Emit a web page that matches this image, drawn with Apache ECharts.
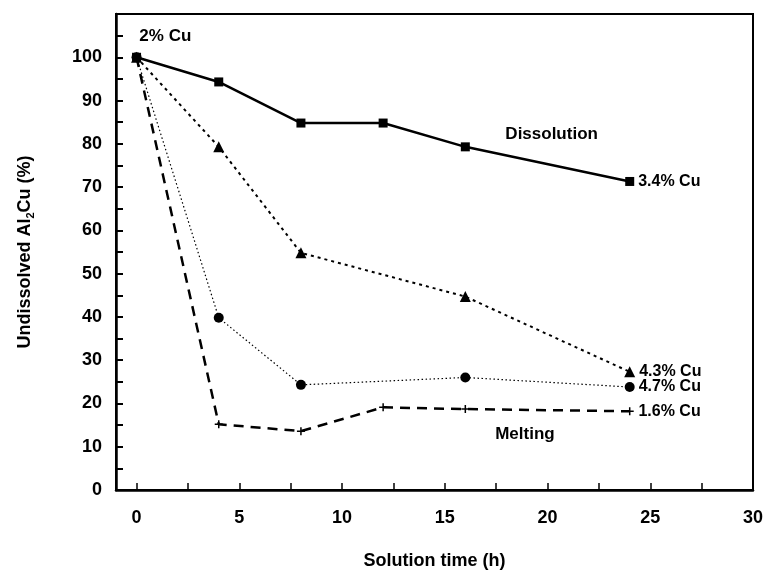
<!DOCTYPE html>
<html>
<head>
<meta charset="utf-8">
<script src="https://cdn.jsdelivr.net/npm/echarts@6/dist/echarts.min.js"></script>
<style>
  html, body { margin: 0; padding: 0; background: #fff; }
  #chart { width: 773px; height: 576px; }
</style>
</head>
<body>
<div id="chart"></div>
<script>
// Solution time in hours
const times = [0, 4, 8, 12, 16, 24];
const timesNo12 = [0, 4, 8, 16, 24];

// Undissolved Al2Cu (%) per alloy
const cu34 = [100, 94.3, 84.8, 84.8, 79.3, 71.3];
const cu43 = [100, 79.3, 54.8, 44.7, 27.3];
const cu47 = [100, 39.8, 24.3, 26.0, 23.8];
const cu16 = [100, 15.2, 13.6, 19.1, 18.7, 18.2];

// Axis ticks and labels
const xLabelValues = [0, 5, 10, 15, 20, 25, 30];
const xTickValues = [0, 2.5, 5, 7.5, 10, 12.5, 15, 17.5, 20, 22.5, 25, 27.5, 30];
const yLabelValues = [0, 10, 20, 30, 40, 50, 60, 70, 80, 90, 100];
const yTickValues = [0, 5, 10, 15, 20, 25, 30, 35, 40, 45, 50, 55, 60, 65, 70, 75, 80, 85, 90, 95, 100, 105];

// Text notes placed in data coordinates
const notes = [
  { text: 'Dissolution', at: [20.2, 82.3] },
  { text: 'Melting', at: [18.9, 12.9] },
  { text: '2% Cu', at: [1.4, 104.8] }
];

const FONT = '"Liberation Sans", Arial, Helvetica, sans-serif';
const pairs = (xs, ys) => xs.map((x, i) => [x, ys[i]]);

function withEndLabel(points, name) {
  return points.map((p, i) => i === points.length - 1
    ? { value: p, label: { show: true, position: 'right', distance: 4, formatter: name,
        color: '#000', fontFamily: FONT, fontWeight: 'bold', fontSize: 16 } }
    : p);
}

const plusPath = 'path://M0,5L10,5M5,0L5,10';

const chart = echarts.init(document.getElementById('chart'), null, { renderer: 'canvas' });

chart.setOption({
  animation: false,
  backgroundColor: '#fff',
  grid: {
    left: 116, right: 20, top: 14, bottom: 86,
    show: true, borderColor: '#000', borderWidth: 2, backgroundColor: 'transparent'
  },
  xAxis: {
    type: 'value', min: -1, max: 30,
    name: 'Solution time (h)', nameLocation: 'middle', nameGap: 62,
    nameTextStyle: { color: '#000', fontFamily: FONT, fontWeight: 'bold', fontSize: 18 },
    axisLine: { show: true, onZero: false, lineStyle: { color: '#000', width: 2.5 } },
    axisTick: { show: true, inside: true, length: 7, customValues: xTickValues, lineStyle: { color: '#000', width: 1.5 } },
    axisLabel: { customValues: xLabelValues, margin: 19, color: '#000', fontFamily: FONT, fontWeight: 'bold', fontSize: 18 },
    splitLine: { show: false }
  },
  yAxis: {
    type: 'value', min: 0, max: 110,
    name: 'Undissolved Al{sub|2}Cu (%)', nameLocation: 'middle', nameGap: 80,
    nameTextStyle: {
      color: '#000', fontFamily: FONT, fontWeight: 'bold', fontSize: 18,
      rich: { sub: { fontFamily: FONT, fontWeight: 'bold', fontSize: 11, padding: [10, 0, 0, 0] } }
    },
    axisLine: { show: true, onZero: false, lineStyle: { color: '#000', width: 2.5 } },
    axisTick: { show: true, inside: true, length: 7, customValues: yTickValues, lineStyle: { color: '#000', width: 2 } },
    axisLabel: { customValues: yLabelValues, margin: 14, color: '#000', fontFamily: FONT, fontWeight: 'bold', fontSize: 18 },
    splitLine: { show: false }
  },
  series: [
    {
      name: '1.6% Cu', type: 'line',
      data: withEndLabel(pairs(times, cu16), '1.6% Cu'),
      symbol: plusPath, symbolSize: 8,
      itemStyle: { color: '#000', borderColor: '#000', borderWidth: 1.5 },
      lineStyle: { color: '#000', width: 2.5, type: [10, 7] },
      z: 2
    },
    {
      name: '4.7% Cu', type: 'line',
      data: withEndLabel(pairs(timesNo12, cu47), '4.7% Cu'),
      symbol: 'circle', symbolSize: 10,
      itemStyle: { color: '#000' },
      lineStyle: { color: '#000', width: 1.2, type: [1.5, 2.5] },
      z: 3
    },
    {
      name: '4.3% Cu', type: 'line',
      data: withEndLabel(pairs(timesNo12, cu43), '4.3% Cu'),
      symbol: 'triangle', symbolSize: 11,
      itemStyle: { color: '#000' },
      lineStyle: { color: '#000', width: 2, type: [3, 4] },
      z: 4
    },
    {
      name: '3.4% Cu', type: 'line',
      data: withEndLabel(pairs(times, cu34), '3.4% Cu'),
      symbol: 'rect', symbolSize: 9,
      itemStyle: { color: '#000' },
      lineStyle: { color: '#000', width: 2.5 },
      z: 5,
      markPoint: {
        symbol: 'rect', symbolSize: 0,
        label: { show: true, position: 'inside', color: '#000', fontFamily: FONT, fontWeight: 'bold', fontSize: 17,
          formatter: p => p.name },
        data: notes.map(n => ({ name: n.text, coord: n.at }))
      }
    }
  ]
});
</script>
</body>
</html>
